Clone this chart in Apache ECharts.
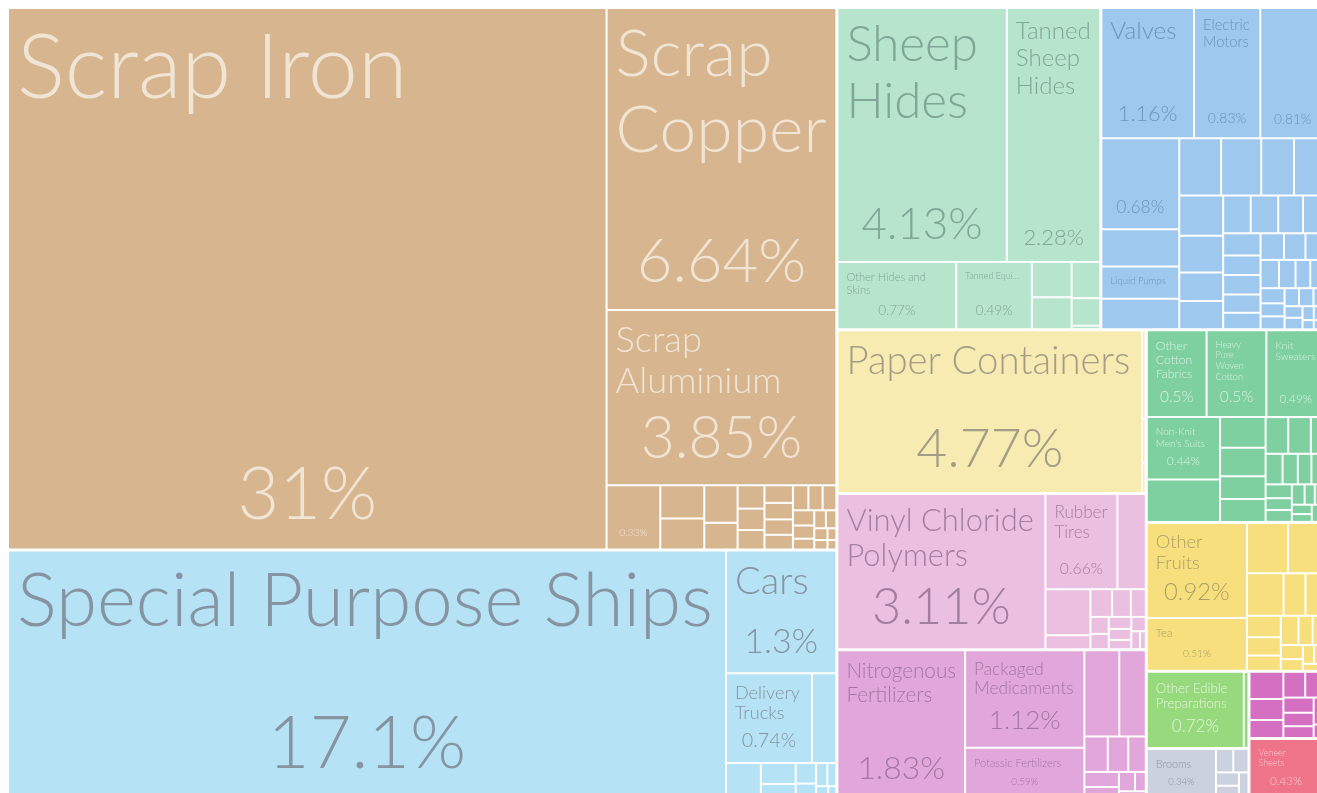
<!DOCTYPE html>
<html>
<head>
<meta charset="utf-8">
<title>Export treemap</title>
<script src="https://cdn.jsdelivr.net/npm/echarts@6/dist/echarts.min.js"></script>
<style>
  html, body { margin: 0; padding: 0; background: #ffffff; }
  #chart { width: 1317px; height: 793px; }
</style>
</head>
<body>
<div id="chart"></div>
<script>
// ---- Export shares by product (% of total), one pair of arrays per section ----
const metalsNames = ['Scrap Iron', 'Scrap Copper', 'Scrap Aluminium', 'Scrap Lead', 'Iron Ingots', 'Raw Aluminium',
  'Copper Wire', 'Iron Structures', 'Hot-Rolled Iron', 'Aluminium Plating', 'Scrap Zinc', 'Iron Pipes',
  'Iron Fasteners', 'Refined Copper', 'Steel Wire', 'Aluminium Bars', 'Iron Blocks', 'Copper Pipes',
  'Other Iron Products', 'Tin Bars', 'Scrap Nickel', 'Metal Stoppers', 'Iron Chains', 'Metal Springs',
  'Padlocks', 'Iron Nails', 'Aluminium Foil'];
const metalsShares = [31, 6.64, 3.85, 0.33, 0.14, 0.13, 0.12, 0.085, 0.06, 0.055, 0.05, 0.048, 0.045, 0.042,
  0.04, 0.037, 0.034, 0.033, 0.031, 0.027, 0.022, 0.02, 0.018, 0.015, 0.012, 0.01, 0.008];

const transportNames = ['Special Purpose Ships', 'Cars', 'Delivery Trucks', 'Vehicle Parts', 'Tug Boats',
  'Passenger and Cargo Ships', 'Trailers', 'Tractors', 'Motorcycles', 'Buses', 'Aircraft Parts', 'Bicycles',
  'Railway Cargo Containers'];
const transportShares = [17.1, 1.3, 0.74, 0.21, 0.12, 0.07, 0.05, 0.04, 0.03, 0.025, 0.02, 0.015, 0.01];

const hidesNames = ['Sheep Hides', 'Tanned Sheep Hides', 'Other Hides and Skins', 'Tanned Equine and Bovine Hides',
  'Bovine Hides', 'Leather Apparel', 'Fur Skins', 'Saddlery', 'Goat Hides'];
const hidesShares = [4.13, 2.28, 0.77, 0.49, 0.135, 0.122, 0.1, 0.076, 0.01];

const machinesNames = ['Valves', 'Electric Motors', 'Centrifuges', 'Air Conditioners', 'Pumps', 'Liquid Pumps',
  'Engine Parts', 'Transmissions', 'Electrical Transformers', 'Industrial Printers', 'Refrigerators',
  'Electrical Control Boards', 'Radio Receivers', 'Spark-Ignition Engines', 'Washing Machines',
  'Excavation Machinery', 'Insulated Wire', 'Lifting Machinery', 'Electric Heaters',
  'Low-voltage Protection Equipment', 'Fans', 'Ball Bearings', 'Telephones', 'Gas Turbines', 'Machine Parts',
  'Electric Generators', 'Harvesting Machinery', 'Sewing Machines', 'Batteries', 'Office Machine Parts',
  'Electric Filament', 'Metalworking Machines', 'Microphones', 'Scales', 'Printed Circuit Boards',
  'Packing Machines', 'Pulley Systems', 'Electric Soldering Equipment', 'Vacuum Cleaners',
  'Semiconductor Devices', 'Shaving Machines', 'Video Displays', 'Hand Tools'];
const machinesShares = [1.16, 0.83, 0.81, 0.68, 0.28, 0.24, 0.23, 0.23, 0.22, 0.18, 0.17, 0.17, 0.155, 0.12,
  0.12, 0.1, 0.1, 0.09, 0.08, 0.08, 0.07, 0.07, 0.065, 0.06, 0.06, 0.055, 0.05, 0.05, 0.045, 0.04, 0.04, 0.035,
  0.03, 0.03, 0.025, 0.025, 0.02, 0.02, 0.02, 0.015, 0.015, 0.01, 0.01];

const paperNames = ['Paper Containers', 'Paper Notebooks', 'Coated Paper', 'Toilet Paper'];
const paperShares = [4.77, 0.03, 0.015, 0.01];

const plasticsNames = ['Vinyl Chloride Polymers', 'Rubber Tires', 'Plastic Lids', 'Ethylene Polymers',
  'Other Plastic Sheetings', 'Plastic Pipes', 'Rubber Belts', 'Plastic Building Materials',
  'Raw Plastic Sheeting', 'Rubber Inner Tubes', 'Styrene Polymers', 'Plastic Housewares', 'Hard Rubber',
  'Synthetic Rubber', 'Rubber Pipes', 'Plastic Wash Basins'];
const plasticsShares = [3.11, 0.66, 0.26, 0.2, 0.06, 0.058, 0.05, 0.04, 0.03, 0.027, 0.026, 0.024, 0.02, 0.02,
  0.015, 0.01];

const chemicalsNames = ['Nitrogenous Fertilizers', 'Packaged Medicaments', 'Potassic Fertilizers', 'Insecticides',
  'Mixed Mineral or Chemical Fertilizers', 'Soap', 'Hair Products', 'Beauty Products', 'Cleaning Products',
  'Polyacetals', 'Glues', 'Paints', 'Perfumes'];
const chemicalsShares = [1.83, 1.12, 0.59, 0.29, 0.22, 0.08, 0.07, 0.06, 0.05, 0.04, 0.03, 0.02, 0.02];

// equal shares are ordered by the treemap with the later entry first
const textilesNames = ['Heavy Pure Woven Cotton', 'Other Cotton Fabrics', 'Knit Sweaters', "Non-Knit Men's Suits",
  "Non-Knit Women's Suits", 'Cotton Yarn', 'House Linens', 'Synthetic Filament Yarn Woven Fabric', 'Carpets',
  "Knit Women's Suits", 'Knit T-shirts', 'Wool Yarn', 'Tarpaulins', 'Knit Socks', "Non-Knit Men's Shirts",
  'Rubber Textiles', 'Felt', 'Other Clothing Articles', 'Synthetic Fabrics', 'Non-Knit Active Wear',
  'Twine and Rope', "Knit Babies' Garments", 'Textile Wall Coverings', 'Used Clothing', 'Gloves', 'Hats'];
const textilesShares = [0.5, 0.5, 0.49, 0.44, 0.3, 0.135, 0.125, 0.1, 0.1, 0.08, 0.08, 0.05, 0.05, 0.045, 0.04,
  0.04, 0.035, 0.03, 0.03, 0.025, 0.02, 0.02, 0.018, 0.015, 0.012, 0.01];

const vegetableNames = ['Other Fruits', 'Tea', 'Coconuts, Brazil Nuts, and Cashews', 'Bananas', 'Coffee',
  'Dried Legumes', 'Spices', 'Pepper', 'Cloves', 'Ginger', 'Vanilla', 'Citrus', 'Cinnamon', 'Other Vegetables',
  'Soybeans', 'Rice', 'Onions', 'Cocoa Beans'];
const vegetableShares = [0.92, 0.51, 0.2, 0.18, 0.15, 0.09, 0.08, 0.07, 0.06, 0.05, 0.05, 0.04, 0.035, 0.03,
  0.025, 0.02, 0.02, 0.015];

const foodNames = ['Other Edible Preparations', 'Fruit Juice'];
const foodShares = [0.72, 0.035];

const miscNames = ['Brooms', 'Pens', 'Toys', 'Furniture', 'Lighters', 'Buttons'];
const miscShares = [0.34, 0.04, 0.035, 0.03, 0.03, 0.025];

const instrumentsNames = ['Medical Instruments', 'Orthopedic Appliances', 'Optical Fibers', 'Hydrometers',
  'Thermostats', 'Electricity Meters', 'Spectrometers', 'Eyeglasses', 'Watches', 'X-Ray Equipment'];
const instrumentsShares = [0.09, 0.07, 0.06, 0.055, 0.05, 0.045, 0.04, 0.035, 0.03, 0.015];

const woodNames = ['Veneer Sheets', 'Wood Charcoal'];
const woodShares = [0.43, 0.015];

const sections = [
  { name: 'Metals', products: metalsNames, shares: metalsShares },
  { name: 'Transportation', products: transportNames, shares: transportShares },
  { name: 'Animal Hides', products: hidesNames, shares: hidesShares },
  { name: 'Machines', products: machinesNames, shares: machinesShares },
  { name: 'Paper Goods', products: paperNames, shares: paperShares },
  { name: 'Plastics and Rubbers', products: plasticsNames, shares: plasticsShares },
  { name: 'Chemical Products', products: chemicalsNames, shares: chemicalsShares },
  { name: 'Textiles', products: textilesNames, shares: textilesShares },
  { name: 'Vegetable Products', products: vegetableNames, shares: vegetableShares },
  { name: 'Foodstuffs', products: foodNames, shares: foodShares },
  { name: 'Miscellaneous', products: miscNames, shares: miscShares },
  { name: 'Instruments', products: instrumentsNames, shares: instrumentsShares },
  { name: 'Wood Products', products: woodNames, shares: woodShares }
];

// ---- Section colours (fill and label ink) ----
const sectionStyle = {
  'Metals':               { fill: '#D7B68F', ink: '#F0E4D4' },
  'Transportation':       { fill: '#B5E2F5', ink: '#8594A0' },
  'Animal Hides':         { fill: '#B6E4CD', ink: '#80A697' },
  'Machines':             { fill: '#9FC8EE', ink: '#6E95BC' },
  'Paper Goods':          { fill: '#F8EBB2', ink: '#A39D86' },
  'Plastics and Rubbers': { fill: '#EBBFE0', ink: '#A27FA0' },
  'Chemical Products':    { fill: '#E1A7DB', ink: '#A3779F' },
  'Textiles':             { fill: '#7FD0A0', ink: '#D5F0DF' },
  'Vegetable Products':   { fill: '#F7DF7D', ink: '#ABA066' },
  'Foodstuffs':           { fill: '#97DA7E', ink: '#E3F5DC' },
  'Miscellaneous':        { fill: '#CCD1DF', ink: '#8E95A5' },
  'Instruments':          { fill: '#D56FC2', ink: '#F3D0EC' },
  'Wood Products':        { fill: '#EF7489', ink: '#FAC8D0' }
};

// Tiles whose caption leaves out the product name
const nameHidden = new Set(['Centrifuges', 'Air Conditioners', 'Scrap Lead', 'Pumps', 'Transmissions',
  'Engine Parts', "Non-Knit Women's Suits"]);

const FONT = 'Lato';
const WEIGHT = 300;
const measureCtx = document.createElement('canvas').getContext('2d');

function textWidth(str, fs) {
  measureCtx.font = WEIGHT + ' ' + fs + 'px ' + FONT;
  return measureCtx.measureText(str).width;
}

function wrapWords(str, fs, maxW) {
  const words = str.split(' ');
  const lines = [];
  let cur = '';
  for (const w of words) {
    if (textWidth(w, fs) > maxW) return null;
    const next = cur ? cur + ' ' + w : w;
    if (textWidth(next, fs) <= maxW) cur = next;
    else { lines.push(cur); cur = w; }
  }
  if (cur) lines.push(cur);
  return lines;
}

function shareText(v) {
  return parseFloat(v.toPrecision(3)) + '%';
}

// Caption sized to the tile: name at the top left, share centred near the bottom.
function captionFor(name, share, w, h, ink) {
  if (w < 44 || h < 28) return { show: false };
  const pad = 8;
  const innerW = w - 2 * pad;
  const pct = shareText(share);
  let pctFs = h < 44 ? 0 : Math.min(72, 0.8 * innerW / textWidth(pct, 1), Math.max(0.42 * h - 14, 0.2 * h));
  if (pctFs < 7.5) pctFs = 0;
  const pctFromBottom = pctFs ? 10 + 0.6 * pctFs : 0;
  const shareBlock = pctFs ? pctFromBottom + 0.5 * pctFs + 6 : 0;
  const availH = h - pad - shareBlock;

  let nameFs = 0;
  let lines = null;
  if (!nameHidden.has(name)) {
    const maxFs = Math.min(90, pctFs ? (pctFs >= 68 ? 1.25 : 1.12) * pctFs : 0.32 * h);
    for (let fs = maxFs; fs >= 8.5; fs -= 0.5) {
      const l = wrapWords(name, fs, innerW);
      if (l && l.length * fs * 1.15 <= availH) { nameFs = fs; lines = l; break; }
    }
    if (!nameFs && availH >= 9 * 1.15) {
      const fs = 9;
      let cut = name.length;
      while (cut > 2 && textWidth(name.slice(0, cut).trim() + '...', fs) > innerW) cut--;
      if (cut >= 3) { nameFs = fs; lines = [name.slice(0, cut).trim() + '...']; }
    }
  } else if (h < 44) {
    return { show: false };
  }
  if (!nameFs && !pctFs) return { show: false };

  const base = { fontFamily: FONT, fontWeight: WEIGHT, color: ink };
  const rich = {};
  const parts = [];
  let used = 0;
  if (nameFs) {
    rich.n = Object.assign({ fontSize: nameFs, lineHeight: nameFs * 1.15 }, base);
    lines.forEach(l => parts.push('{n|' + l + '}'));
    used += lines.length * nameFs * 1.15;
  }
  if (pctFs) {
    const pctLH = pctFs * 1.2;
    const gap = Math.max(0, h - pctFromBottom - pctLH / 2 - pad - used);
    if (gap > 0.5) {
      rich.s = Object.assign({ fontSize: 1, lineHeight: gap }, base);
      parts.push('{s| }');
    }
    rich.p = Object.assign({ fontSize: pctFs, lineHeight: pctLH, align: 'center' }, base);
    parts.push('{p|' + pct + '}');
  }
  return {
    show: true,
    position: 'insideTopLeft',
    distance: 0,
    padding: [pad, pad, 0, pad],
    textBorderWidth: 0,
    formatter: parts.join('\n'),
    rich: rich
  };
}

function buildData(captionOf) {
  return sections.map(sec => {
    const st = sectionStyle[sec.name];
    return {
      name: sec.name,
      itemStyle: { color: st.fill, borderColor: '#ffffff' },
      children: sec.products.map((p, i) => ({
        name: p,
        value: sec.shares[i],
        itemStyle: { color: st.fill },
        label: captionOf ? captionOf(p, sec.shares[i], st.ink) : { show: false }
      }))
    };
  });
}

function buildOption(captionOf) {
  return {
    animation: false,
    backgroundColor: '#ffffff',
    series: [{
      type: 'treemap',
      left: 9,
      top: 9,
      width: 1315,
      height: 789,
      roam: false,
      nodeClick: false,
      breadcrumb: { show: false },
      sort: 'desc',
      visibleMin: 1,
      upperLabel: { show: false },
      label: { show: false },
      emphasis: { disabled: true },
      itemStyle: { borderWidth: 0, gapWidth: 0, borderColor: '#ffffff' },
      levels: [
        { itemStyle: { gapWidth: 3, borderWidth: 0, borderColor: '#ffffff' } },
        { itemStyle: { gapWidth: 2, borderWidth: 0, borderColor: '#ffffff' } },
        { itemStyle: { borderWidth: 0 } }
      ],
      data: buildData(captionOf)
    }]
  };
}

const chart = echarts.init(document.getElementById('chart'), null, { renderer: 'canvas' });

// First pass lays out the tiles; their sizes then drive the caption sizes.
chart.setOption(buildOption(null));

const seriesModel = chart.getModel().getSeriesByIndex(0);
const tileData = seriesModel.getData();
const tree = tileData.tree;
const tileSize = {};
for (let i = 0; i < tileData.count(); i++) {
  const node = tree ? tree.getNodeByDataIndex(i) : null;
  if (node && node.children && node.children.length === 0) {
    const lay = tileData.getItemLayout(i);
    if (lay) tileSize[tileData.getName(i)] = { w: lay.width, h: lay.height };
  }
}

chart.setOption(buildOption((name, share, ink) => {
  const s = tileSize[name];
  return s ? captionFor(name, share, s.w, s.h, ink) : { show: false };
}), true);
</script>
</body>
</html>
